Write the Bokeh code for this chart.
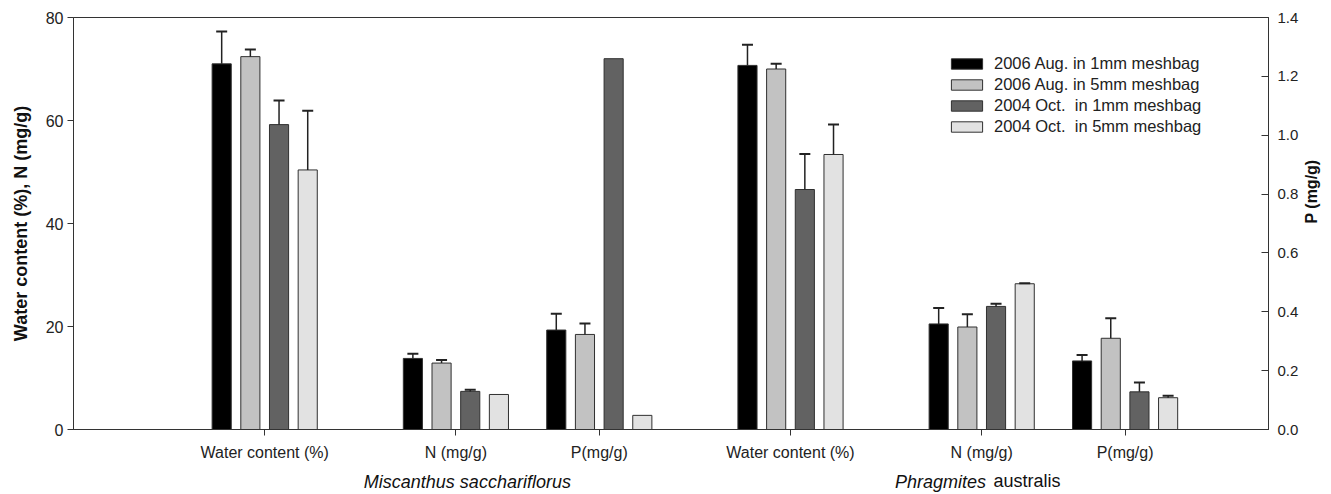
import math
from bokeh.plotting import figure
from bokeh.models import (Range1d, LinearAxis, FixedTicker, PrintfTickFormatter, Whisker,
                          TeeHead, ColumnDataSource, Legend, LegendItem)
from bokeh.embed import file_html
from bokeh.resources import INLINE

# ---------------- data ----------------
categories = ["Water content (%)", "N (mg/g)", "P(mg/g)",
              "Water content (%)", "N (mg/g)", "P(mg/g)"]
axis_of = ["left", "left", "right", "left", "left", "right"]
species_italic = ["Miscanthus sacchariflorus", "Phragmites"]
species_plain = ["australis"]
series_names = ["2006 Aug. in 1mm meshbag", "2006 Aug. in 5mm meshbag",
                "2004 Oct.  in 1mm meshbag", "2004 Oct.  in 5mm meshbag"]
aug1 = [71.0, 13.8, 0.338, 70.7, 20.5, 0.233]
aug5 = [72.4, 12.9, 0.323, 70.0, 19.9, 0.310]
oct1 = [59.2, 7.4, 1.260, 46.6, 23.9, 0.128]
oct5 = [50.4, 6.8, 0.048, 53.4, 28.3, 0.108]
aug1_err = [6.3, 0.9, 0.055, 4.0, 3.1, 0.020]
aug5_err = [1.4, 0.6, 0.037, 1.0, 2.5, 0.068]
oct1_err = [4.7, 0.3, None, 6.9, 0.5, 0.032]
oct5_err = [11.5, None, None, 5.8, 0.1, 0.007]
left_ticks = [0, 20, 40, 60, 80]
right_ticks = [0.0, 0.2, 0.4, 0.6, 0.8, 1.0, 1.2, 1.4]

# ---------------- layout ----------------
group_pos = [4, 8, 11, 15, 19, 22]
species_italic_pos = [8.24, 18.14]
species_plain_pos = [19.95]
offsets = [-0.9, -0.3, 0.3, 0.9]
bar_w = 0.4
colors = ["#000000", "#c2c2c2", "#626262", "#e2e2e2"]
FONT = "Liberation Sans"

p = figure(width=1331, height=494, x_range=Range1d(0, 25), y_range=Range1d(0, 80),
           output_backend="svg", toolbar_location=None,
           min_border_left=73, min_border_right=58, min_border_top=17, min_border_bottom=59)
p.extra_y_ranges = {"p": Range1d(0, 1.4)}
p.xgrid.visible = False
p.ygrid.visible = False
p.outline_line_color = "#333333"
p.outline_line_width = 1

values = [aug1, aug5, oct1, oct5]
errs = [aug1_err, aug5_err, oct1_err, oct5_err]
legend_items = []
for i in range(4):
    first = None
    for side, rng in (("left", "default"), ("right", "p")):
        idx = [j for j in range(6) if axis_of[j] == side]
        xs = [group_pos[j] + offsets[i] for j in idx]
        ys = [values[i][j] for j in idx]
        src = ColumnDataSource(dict(x=xs, top=ys))
        r = p.vbar(x="x", top="top", width=bar_w, bottom=0, source=src,
                   fill_color=colors[i], line_color="#303030", line_width=1,
                   y_range_name=rng)
        if first is None:
            first = r
        eidx = [j for j in idx if errs[i][j] is not None]
        if eidx:
            esrc = ColumnDataSource(dict(
                x=[group_pos[j] + offsets[i] for j in eidx],
                base=[values[i][j] for j in eidx],
                upper=[values[i][j] + errs[i][j] for j in eidx]))
            w = Whisker(source=esrc, base="x", lower="base", upper="upper",
                        dimension="height", line_color="#222222", line_width=1.5,
                        upper_head=TeeHead(size=11, line_color="#222222", line_width=2),
                        lower_head=None, y_range_name=rng, level="glyph")
            p.add_layout(w)
    legend_items.append(LegendItem(label=series_names[i], renderers=[first]))

legend = Legend(items=legend_items, location=(874, 293), padding=0, margin=0,
                border_line_color=None, background_fill_alpha=0,
                glyph_width=39, glyph_height=13, label_height=20, spacing=1,
                label_standoff=8, label_text_font=FONT, label_text_font_size="16.5px",
                label_text_color="#222222")
p.add_layout(legend)

# x axis (categories)
xa = p.xaxis[0]
xa.ticker = FixedTicker(ticks=group_pos)
xa.major_label_overrides = {g: c for g, c in zip(group_pos, categories)}
xa.minor_tick_line_color = None
xa.major_tick_out = 6
xa.major_tick_in = 0
xa.major_label_standoff = 8
xa.major_label_text_font = FONT
xa.major_label_text_font_size = "16px"
xa.major_label_text_color = "#222222"
xa.axis_line_color = "#333333"
xa.major_tick_line_color = "#333333"

# species row (italic)
sa = LinearAxis(ticker=FixedTicker(ticks=species_italic_pos),
                major_label_overrides={g: s for g, s in zip(species_italic_pos, species_italic)})
sa.axis_line_color = None
sa.major_tick_line_color = None
sa.minor_tick_line_color = None
sa.major_tick_out = 0
sa.major_tick_in = 0
sa.major_label_standoff = 8
sa.major_label_text_font = FONT
sa.major_label_text_font_size = "18px"
sa.major_label_text_font_style = "italic"
sa.major_label_text_color = "#111111"
p.add_layout(sa, "below")

# species row (upright part), overlapping the italic row
sb = LinearAxis(ticker=FixedTicker(ticks=species_plain_pos),
                major_label_overrides={g: s for g, s in zip(species_plain_pos, species_plain)})
sb.axis_line_color = None
sb.major_tick_line_color = None
sb.minor_tick_line_color = None
sb.major_tick_out = 0
sb.major_tick_in = 0
sb.major_label_standoff = -24
sb.major_label_text_font = FONT
sb.major_label_text_font_size = "18px"
sb.major_label_text_color = "#111111"
p.add_layout(sb, "below")

# left axis
ya = p.yaxis[0]
ya.ticker = FixedTicker(ticks=left_ticks)
ya.minor_tick_line_color = None
ya.major_tick_out = 6
ya.major_tick_in = 0
ya.major_label_standoff = 4
ya.major_label_text_font = FONT
ya.major_label_text_font_size = "16px"
ya.major_label_text_color = "#222222"
ya.axis_label = "Water content (%), N (mg/g)"
ya.axis_label_text_font = FONT
ya.axis_label_text_font_size = "18px"
ya.axis_label_text_font_style = "bold"
ya.axis_label_text_color = "#111111"
ya.axis_label_standoff = 12
ya.axis_line_color = "#333333"
ya.major_tick_line_color = "#333333"

# right axis
ra = LinearAxis(y_range_name="p", ticker=FixedTicker(ticks=right_ticks),
                formatter=PrintfTickFormatter(format="%.1f"))
ra.minor_tick_line_color = None
ra.major_tick_out = 0
ra.major_tick_in = 7
ra.major_label_standoff = 9
ra.major_label_text_font = FONT
ra.major_label_text_font_size = "15px"
ra.major_label_text_color = "#222222"
ra.axis_label = "P (mg/g)"
ra.axis_label_orientation = math.pi / 2
ra.axis_label_text_font = FONT
ra.axis_label_text_font_size = "16px"
ra.axis_label_text_font_style = "bold"
ra.axis_label_text_color = "#111111"
ra.axis_label_standoff = 10
ra.axis_line_color = "#333333"
ra.major_tick_line_color = "#333333"
p.add_layout(ra, "right")

open("out.html", "w").write(file_html(p, INLINE))
